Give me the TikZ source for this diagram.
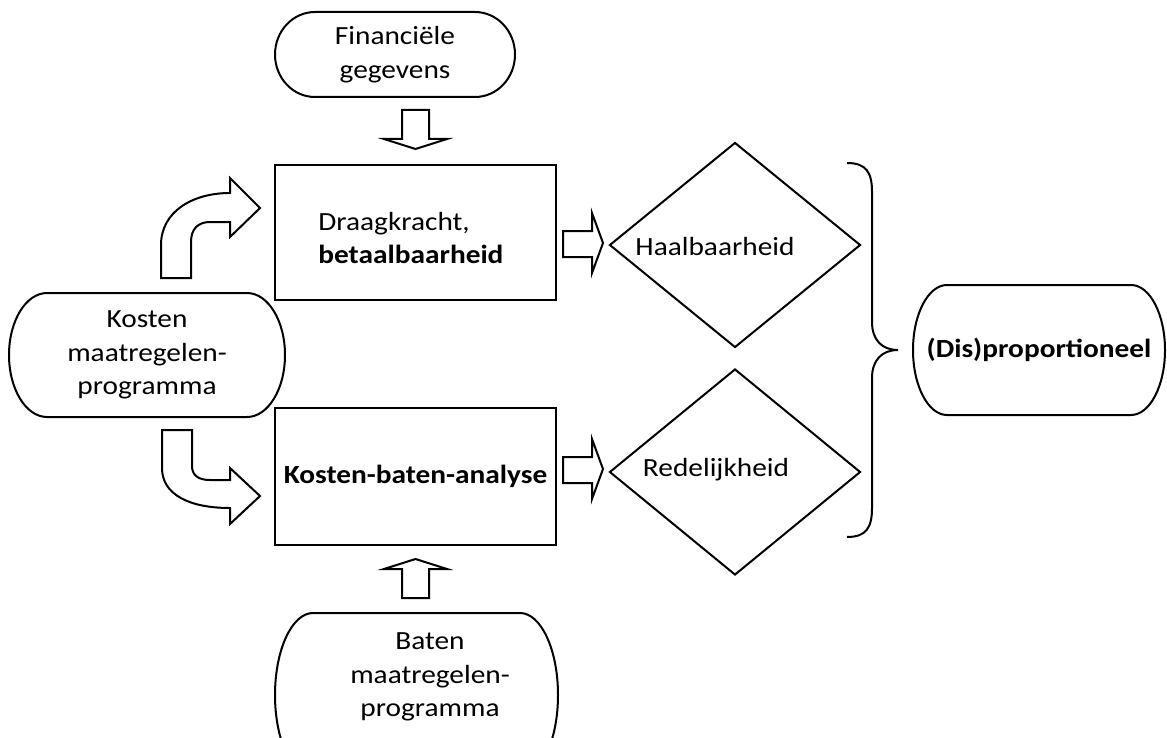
\documentclass[tikz,border=0pt]{standalone}
\usepackage{fontspec}
\setmainfont{Carlito}[FakeStretch=1.12]
\usetikzlibrary{shapes.geometric}

\tikzset{
	terminal/.style={align=center, inner sep=0pt, outer sep=0pt},
	procbox/.style={draw=black, line width=1pt, inner sep=0pt},
	decision/.style={draw=black, diamond, line width=1pt, inner sep=0pt},
	blk/.style={draw=black, line width=1pt, fill=white, line join=miter},
	lbl/.style={inner sep=0pt}
}

% outline of a terminal node with elliptic ends
\newcommand{\terminalpath}[3]{%
	\draw[line width=1pt] ([xshift=#2]#1.north west) -- ([xshift=-#2]#1.north east)
	arc[start angle=90, end angle=-90, x radius=#2, y radius=#3]
	-- ([xshift=#2]#1.south west)
	arc[start angle=270, end angle=90, x radius=#2, y radius=#3] -- cycle;}

\begin{document}
\begin{tikzpicture}[x=0.5pt, y=-0.5pt, every node/.style={font=\fontsize{13.1}{16.8}\selectfont}]
	
	\useasboundingbox (0,0) rectangle (1167,738);
	\clip (0,0) rectangle (1167,738);
	
	\node[terminal, minimum width=120pt, minimum height=42.5pt] (fin) at (395,54.5) {Financiële\\gegevens};
	\terminalpath{fin}{20pt}{21.25pt}
	
	\node[terminal, minimum width=138pt, minimum height=62pt] (kosten) at (147,355) {Kosten\\maatregelen-\\programma};
	\terminalpath{kosten}{19pt}{31pt}
	
	\node[terminal, minimum width=141.5pt, minimum height=82pt] (baten) at (416.5,695) {};
	\terminalpath{baten}{19pt}{41pt}
	\node[lbl, align=center] (batentxt) at (430,677) {Baten\\maatregelen-\\programma};
	
	\node[procbox, minimum width=140.5pt, minimum height=67.5pt] (draag) at (415.5,232.5) {};
	\node[lbl, anchor=west, align=left] (draagtxt) at (318,238) {Draagkracht,\\\textbf{betaalbaarheid}};
	
	\node[procbox, minimum width=140.5pt, minimum height=68.5pt] (kba) at (415.5,476.5) {\textbf{Kosten-baten-analyse}};
	
	\node[decision, minimum width=125.5pt, minimum height=102.5pt] (haal) at (735,245) {};
	\node[lbl, anchor=base] (haaltxt) at (715,255) {Haalbaarheid};
	
	\node[decision, minimum width=125.5pt, minimum height=103pt] (rede) at (735,472) {};
	\node[lbl, anchor=base] (redetxt) at (716,476) {Redelijkheid};
	
	\node[terminal, minimum width=126pt, minimum height=65pt] (dis) at (1039,350) {\textbf{(Dis)proportioneel}};
	\terminalpath{dis}{17pt}{32.5pt}
	
	% block arrows
	\draw[blk] (402,110) -- (429,110) -- (429,139) -- (447,139) -- (415.5,149) -- (384,139) -- (402,139) -- cycle;
	
	\draw[blk] (402,598) -- (429,598) -- (429,569) -- (447,569) -- (415.5,559) -- (384,569) -- (402,569) -- cycle;
	
	\draw[blk] (563,231) -- (592,231) -- (592,213) -- (603,243) -- (592,273) -- (592,257) -- (563,257) -- cycle;
	
	\draw[blk] (563,457) -- (592,457) -- (592,439) -- (603,469) -- (592,499) -- (592,483) -- (563,483) -- cycle;
	
	\draw[blk] (161,278) -- (161,245) .. controls (161,212) and (192,193) .. (230,193) -- (230,178) -- (260,208) -- (230,237) -- (230,222) -- (210,222) .. controls (198,222) and (191,229) .. (191,242) -- (191,278) -- cycle;
	
	\draw[blk] (162,430) -- (192,430) -- (192,466) .. controls (192,475) and (198,480) .. (210,480) -- (230,480) -- (230,468) -- (260,496) -- (230,524) -- (230,508) .. controls (190,508) and (162,495) .. (162,468) -- cycle;
	
	% brace
	\draw[line width=1pt] (847,163) .. controls (866,163) and (872,172) .. (872,192) -- (872,322) .. controls (872,340) and (882,350) .. (898,350) .. controls (882,350) and (872,360) .. (872,378) -- (872,508) .. controls (872,528) and (866,537) .. (847,537);
	
\end{tikzpicture}
\end{document}
